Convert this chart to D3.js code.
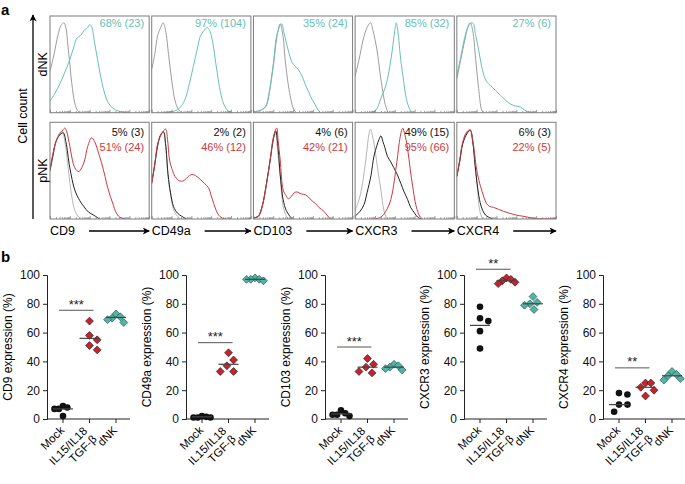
<!DOCTYPE html>
<html><head><meta charset="utf-8">
<script src="https://cdn.jsdelivr.net/npm/d3@7"></script>
<style>body{margin:0;background:#fff}svg{display:block}text{font-family:"Liberation Sans",Arial,Helvetica,sans-serif}</style>
</head><body><svg id="c" width="685" height="484"></svg>
<script>
// ---------- DATA ----------
const markers = ["CD9", "CD49a", "CD103", "CXCR3", "CXCR4"];
const rowNames = ["dNK", "pNK"];
const topPct = ["68% (23)", "97% (104)", "35% (24)", "85% (32)", "27% (6)"];
const botPctBlack = ["5% (3)", "2% (2)", "4% (6)", "49% (15)", "6% (3)"];
const botPctRed = ["51% (24)", "46% (12)", "42% (21)", "95% (66)", "22% (5)"];

// histograms: [fraction of x range, fraction of max count]
const dnkIso = [
  [[0,0.43],[0.04,0.6],[0.08,0.8],[0.11,0.9],[0.14,0.93],[0.16,0.88],[0.18,0.7],[0.2,0.5],[0.22,0.3],[0.25,0.1],[0.28,0.02],[0.31,0]],
  [[0,0.45],[0.03,0.6],[0.06,0.8],[0.09,0.88],[0.115,0.93],[0.14,0.85],[0.17,0.6],[0.2,0.35],[0.23,0.15],[0.26,0.05],[0.3,0]],
  [[0,0.01],[0.06,0.02],[0.1,0.04],[0.13,0.07],[0.16,0.2],[0.2,0.48],[0.24,0.8],[0.27,0.92],[0.3,0.78],[0.32,0.55],[0.35,0.3],[0.37,0.18],[0.4,0.05],[0.43,0]],
  [[0,0.38],[0.04,0.55],[0.08,0.75],[0.12,0.88],[0.155,0.93],[0.18,0.85],[0.22,0.65],[0.25,0.42],[0.27,0.28],[0.3,0.1],[0.33,0]],
  [[0,0.35],[0.04,0.55],[0.08,0.75],[0.11,0.88],[0.135,0.93],[0.16,0.85],[0.19,0.55],[0.22,0.25],[0.25,0.03],[0.27,0]]
];
const dnkStain = [
  [[0,0.12],[0.05,0.2],[0.1,0.3],[0.15,0.42],[0.2,0.55],[0.24,0.68],[0.27,0.77],[0.31,0.8],[0.35,0.86],[0.38,0.88],[0.4,0.91],[0.42,0.89],[0.45,0.72],[0.48,0.55],[0.51,0.38],[0.54,0.24],[0.57,0.14],[0.61,0.07],[0.66,0.03],[0.72,0.01],[0.78,0]],
  [[0.12,0],[0.2,0.01],[0.26,0.03],[0.3,0.07],[0.34,0.15],[0.38,0.3],[0.42,0.48],[0.46,0.66],[0.49,0.79],[0.52,0.84],[0.56,0.88],[0.58,0.86],[0.6,0.8],[0.62,0.7],[0.645,0.52],[0.67,0.35],[0.7,0.18],[0.73,0.08],[0.77,0.02],[0.82,0]],
  [[0,0.01],[0.06,0.02],[0.1,0.04],[0.13,0.08],[0.16,0.22],[0.2,0.5],[0.24,0.82],[0.285,0.92],[0.31,0.82],[0.35,0.65],[0.39,0.52],[0.42,0.48],[0.45,0.45],[0.49,0.38],[0.52,0.3],[0.55,0.23],[0.59,0.14],[0.62,0.09],[0.65,0.03],[0.68,0]],
  [[0.15,0],[0.2,0.02],[0.22,0.04],[0.26,0.15],[0.31,0.28],[0.35,0.48],[0.375,0.65],[0.4,0.85],[0.415,0.93],[0.43,0.85],[0.46,0.55],[0.49,0.32],[0.51,0.18],[0.54,0.06],[0.57,0]],
  [[0,0.38],[0.04,0.58],[0.08,0.78],[0.12,0.9],[0.16,0.93],[0.19,0.8],[0.22,0.65],[0.25,0.48],[0.285,0.35],[0.31,0.31],[0.34,0.28],[0.39,0.23],[0.44,0.18],[0.49,0.13],[0.54,0.09],[0.59,0.07],[0.64,0.06],[0.68,0.03],[0.72,0.01],[0.78,0]]
];
const pnkIso = [
  [[0,0.49],[0.03,0.65],[0.06,0.8],[0.09,0.88],[0.12,0.91],[0.15,0.8],[0.185,0.51],[0.22,0.23],[0.25,0.09],[0.28,0.03],[0.31,0]],
  [[0,0.37],[0.03,0.55],[0.06,0.75],[0.09,0.87],[0.115,0.91],[0.14,0.75],[0.165,0.44],[0.19,0.25],[0.22,0.1],[0.25,0.04],[0.29,0]],
  [[0,0.01],[0.05,0.02],[0.09,0.12],[0.13,0.34],[0.17,0.6],[0.2,0.82],[0.22,0.91],[0.245,0.7],[0.27,0.44],[0.3,0.13],[0.33,0.03],[0.35,0]],
  [[0,0.09],[0.04,0.2],[0.07,0.34],[0.1,0.55],[0.12,0.72],[0.14,0.88],[0.155,0.93],[0.175,0.86],[0.2,0.72],[0.23,0.5],[0.26,0.3],[0.29,0.09],[0.32,0]],
  [[0,0.44],[0.03,0.6],[0.06,0.78],[0.1,0.88],[0.135,0.92],[0.16,0.8],[0.185,0.54],[0.21,0.3],[0.22,0.16],[0.24,0.05],[0.26,0]]
];
const pnkMock = [
  [[0,0.5],[0.03,0.66],[0.06,0.8],[0.1,0.87],[0.135,0.89],[0.16,0.8],[0.2,0.53],[0.25,0.3],[0.3,0.19],[0.34,0.13],[0.39,0.07],[0.44,0.04],[0.5,0]],
  [[0,0.37],[0.03,0.56],[0.06,0.76],[0.09,0.87],[0.12,0.9],[0.14,0.78],[0.165,0.46],[0.19,0.27],[0.22,0.13],[0.26,0.06],[0.3,0.03],[0.35,0]],
  [[0,0.01],[0.05,0.03],[0.09,0.14],[0.13,0.36],[0.17,0.62],[0.2,0.82],[0.225,0.91],[0.25,0.72],[0.27,0.46],[0.3,0.2],[0.33,0.09],[0.36,0.04],[0.39,0]],
  [[0,0.03],[0.05,0.08],[0.09,0.15],[0.12,0.27],[0.16,0.45],[0.19,0.65],[0.22,0.76],[0.24,0.82],[0.26,0.86],[0.28,0.8],[0.3,0.74],[0.325,0.65],[0.36,0.59],[0.39,0.53],[0.42,0.47],[0.46,0.37],[0.49,0.29],[0.53,0.2],[0.56,0.12],[0.6,0.06],[0.63,0.02],[0.665,0]],
  [[0,0.44],[0.03,0.6],[0.06,0.78],[0.1,0.88],[0.135,0.92],[0.16,0.8],[0.185,0.55],[0.21,0.32],[0.235,0.17],[0.26,0.09],[0.29,0.04],[0.32,0.02],[0.36,0]]
];
const pnkCyto = [
  [[0,0.51],[0.03,0.68],[0.06,0.8],[0.1,0.88],[0.13,0.92],[0.15,0.94],[0.17,0.9],[0.2,0.75],[0.25,0.53],[0.29,0.49],[0.32,0.53],[0.35,0.61],[0.38,0.75],[0.42,0.84],[0.45,0.8],[0.49,0.68],[0.52,0.58],[0.555,0.44],[0.58,0.33],[0.61,0.23],[0.64,0.14],[0.66,0.08],[0.69,0.03],[0.72,0.01],[0.76,0]],
  [[0,0.37],[0.03,0.56],[0.06,0.78],[0.1,0.88],[0.14,0.93],[0.16,0.82],[0.18,0.61],[0.21,0.5],[0.235,0.44],[0.27,0.4],[0.3,0.39],[0.33,0.4],[0.37,0.44],[0.405,0.46],[0.44,0.45],[0.49,0.41],[0.53,0.37],[0.575,0.32],[0.6,0.24],[0.625,0.16],[0.65,0.09],[0.675,0.04],[0.71,0.01],[0.74,0]],
  [[0,0.01],[0.05,0.03],[0.09,0.14],[0.13,0.35],[0.17,0.62],[0.2,0.84],[0.235,0.94],[0.25,0.8],[0.27,0.61],[0.3,0.3],[0.33,0.24],[0.35,0.21],[0.38,0.23],[0.41,0.27],[0.44,0.28],[0.48,0.26],[0.525,0.25],[0.56,0.22],[0.6,0.18],[0.625,0.16],[0.66,0.12],[0.71,0.08],[0.75,0.03],[0.78,0]],
  [[0.2,0],[0.26,0.02],[0.31,0.08],[0.36,0.2],[0.39,0.36],[0.41,0.51],[0.43,0.66],[0.445,0.79],[0.465,0.9],[0.48,0.94],[0.5,0.88],[0.53,0.72],[0.555,0.52],[0.58,0.34],[0.605,0.18],[0.63,0.08],[0.65,0.03],[0.68,0]],
  [[0,0.44],[0.03,0.62],[0.06,0.8],[0.1,0.9],[0.135,0.92],[0.16,0.82],[0.2,0.51],[0.23,0.37],[0.25,0.3],[0.275,0.22],[0.3,0.16],[0.33,0.13],[0.37,0.12],[0.42,0.1],[0.47,0.08],[0.53,0.06],[0.6,0.04],[0.66,0.03],[0.71,0.02],[0.76,0.01],[0.82,0.003],[1,0]]
];

// panel b
const groups = ["Mock", "IL15/IL18|TGF-β", "dNK"];
const mockVals = [[9,8,7,7,2],[2,1.5,1,1,1],[6,4,3,3,2],[78,70,68,61,49],[18,17,10,10,5]];
const cytoVals = [[68,58,55,51,48],[46,41,37,33,33],[42,38,36,33,32],[98,97,96,95,94],[25,25,22,20,16]];
const dnkVals = [[73,71,70,69,67],[98,97,97,96,97],[38,37,36,35,34],[85,81,80,79,76],[33,31,30,28,27]];
const lineVals = [[7,56,70.5],[1.5,38,97],[3.5,36,36],[65,96,80],[10,22,30]];
const sigVals = [75.5, 53, 50, 104, 35.5];
const sigText = ["***", "***", "***", "**", "**"];
const yTicks = [0, 20, 40, 60, 80, 100];

// ---------- STYLE ----------
const TEAL = "#66c0b3", RED = "#cc3a40", BLACK = "#222";
const svg = d3.select("#c");
const defs = svg.append("defs");
defs.append("marker").attr("id","arr").attr("viewBox","0 0 10 10").attr("refX",9).attr("refY",5)
  .attr("markerWidth",9).attr("markerHeight",7).attr("markerUnits","userSpaceOnUse").attr("orient","auto")
  .append("path").attr("d","M0,0 L10,5 L0,10 L2.5,5 Z").attr("fill","#000");

// ---------- PANEL A ----------
svg.append("text").attr("x",1).attr("y",15).attr("font-size",15).attr("font-weight","bold").text("a");
const col = d3.scaleBand().domain(markers).range([50,556]).paddingInner(0.025);
const rowY = d3.scaleBand().domain(rowNames).range([16,219]).paddingInner(0.09);
const fx = d3.scaleLinear().domain([0,1]);
const fy = d3.scaleLinear().domain([0,1]);
const line = d3.line().x(d=>fx(d[0])).y(d=>fy(d[1])).curve(d3.curveCatmullRom.alpha(0.5));

// y arrow
svg.append("line").attr("x1",33).attr("x2",33).attr("y1",219).attr("y2",15)
  .attr("stroke","#000").attr("stroke-width",1.3).attr("marker-end","url(#arr)");
svg.append("text").attr("transform","translate(23,116) rotate(-90)").attr("text-anchor","middle")
  .attr("dominant-baseline","central").attr("font-size",12.5).text("Cell count");

rowNames.forEach((rn, ri) => {
  const y0 = rowY(rn), y1 = y0 + rowY.bandwidth();
  svg.append("text").attr("transform",`translate(43,${(y0+y1)/2}) rotate(-90)`).attr("text-anchor","middle")
    .attr("dominant-baseline","central").attr("font-size",12.5).text(rn);
  markers.forEach((m, mi) => {
    const x0 = col(m), x1 = x0 + col.bandwidth();
    fx.range([x0, x1]); fy.range([y1, y0]);
    const g = svg.append("g");
    const cid = `clip${ri}${mi}`;
    defs.append("clipPath").attr("id",cid).append("rect").attr("x",x0).attr("y",y0).attr("width",x1-x0).attr("height",y1-y0);
    const cg = g.append("g").attr("clip-path",`url(#${cid})`);
    const curves = ri === 0
      ? [[dnkIso[mi], "#9c9c9c"], [dnkStain[mi], TEAL]]
      : [[pnkIso[mi], "#b5b5b5"], [pnkMock[mi], BLACK], [pnkCyto[mi], RED]];
    curves.forEach(([d, c]) => {
      cg.append("path").attr("d", line(d)).attr("fill","none").attr("stroke",c).attr("stroke-width",1);
    });
    // log-scale ticks along the bottom
    const lx = d3.scaleLog().domain([1, 1e5]).range([x0, x1]);
    const ax = d3.axisTop(lx).tickSize(2).tickFormat("");
    const ag = g.append("g").attr("transform",`translate(0,${y1})`).call(ax);
    ag.select(".domain").remove();
    ag.selectAll(".tick line").attr("stroke","#777").attr("stroke-width",0.7)
      .attr("y2", d => (Math.abs(Math.log10(d) % 1) < 1e-9) ? -3 : -1.8);
    g.append("rect").attr("x",x0).attr("y",y0).attr("width",x1-x0).attr("height",y1-y0)
      .attr("fill","none").attr("stroke","#7d7d7d").attr("stroke-width",1);
    if (ri === 0) {
      g.append("text").attr("x",x1-5).attr("y",y0+11).attr("text-anchor","end").attr("font-size",11)
        .attr("fill",TEAL).text(topPct[mi]);
    } else {
      g.append("text").attr("x",x1-5).attr("y",y0+13.5).attr("text-anchor","end").attr("font-size",11)
        .attr("fill","#111").text(botPctBlack[mi]);
      g.append("text").attr("x",x1-5).attr("y",y0+29).attr("text-anchor","end").attr("font-size",11)
        .attr("fill",RED).text(botPctRed[mi]);
      // marker axis label + arrow
      const t = svg.append("text").attr("x",x0).attr("y",235).attr("font-size",12.5).text(m);
      const tw = t.node().getComputedTextLength();
      svg.append("line").attr("x1",x0+tw+14).attr("x2",x1).attr("y1",231).attr("y2",231)
        .attr("stroke","#000").attr("stroke-width",1.3).attr("marker-end","url(#arr)");
    }
  });
});

// ---------- PANEL B ----------
svg.append("text").attr("x",1).attr("y",262).attr("font-size",15).attr("font-weight","bold").text("b");
const sub = d3.scaleBand().domain(markers).range([47, 47 + 139*5]).paddingInner(0);
const y = d3.scaleLinear().domain([0,100]).range([419, 275]);
const colors = [{fill:"#111", stroke:"#111", shape:"circle"}, {fill:"#c0262f", stroke:"#3a1010", shape:"diamond"}, {fill:"#52b4a7", stroke:"#1f4a44", shape:"diamond"}];

// simple beeswarm: nearest free horizontal slot, then compressed to a maximum half-width
function swarm(vals, r, maxHalf) {
  const placed = [];
  vals.forEach(v => {
    const py = y(v);
    const cands = [0];
    placed.forEach(p => {
      const dy = Math.abs(p.y - py);
      if (dy < 2*r) { const dx = Math.sqrt(4*r*r - dy*dy); cands.push(p.x - dx, p.x + dx); }
    });
    cands.sort((a,b)=>Math.abs(a)-Math.abs(b) || b-a);
    let best = 0;
    for (const c of cands) {
      if (placed.every(p => Math.hypot(p.x - c, p.y - py) >= 2*r - 1e-6)) { best = c; break; }
    }
    placed.push({x: best, y: py, v});
  });
  const ext = d3.max(placed, p => Math.abs(p.x));
  if (ext > maxHalf) placed.forEach(p => p.x *= maxHalf / ext);
  return placed;
}

markers.forEach((m, mi) => {
  const ax0 = sub(m);
  const x = d3.scalePoint().domain(groups).range([ax0 + 16, ax0 + 69]);
  const g = svg.append("g");
  // y axis
  const yA = d3.axisLeft(y).tickValues(yTicks).tickSize(4).tickPadding(3);
  const yg = g.append("g").attr("transform",`translate(${ax0},0)`).call(yA);
  yg.selectAll("text").attr("font-size",12).attr("font-family","Liberation Sans, Arial, sans-serif").attr("fill","#111");
  yg.selectAll("line,path").attr("stroke","#222");
  // x axis
  g.append("line").attr("x1",ax0).attr("x2",ax0+83).attr("y1",y(0)).attr("y2",y(0)).attr("stroke","#222");
  groups.forEach((gr, gi) => {
    const cx = x(gr);
    g.append("line").attr("x1",cx).attr("x2",cx).attr("y1",y(0)).attr("y2",y(0)+4).attr("stroke","#222");
    const lab = g.append("text").attr("transform",`translate(${cx+2},${y(0)+12}) rotate(-45)`)
      .attr("text-anchor","end").attr("font-size",11.5);
    const parts = gr.split("|");
    if (parts.length === 1) lab.text(gr);
    else {
      lab.append("tspan").attr("x",-3).attr("y",-2).text(parts[0]);
      lab.append("tspan").attr("x",-2).attr("y",10.5).text(parts[1]);
    }
    const vals = [mockVals, cytoVals, dnkVals][gi][mi];
    const st = colors[gi];
    const pts = swarm(vals, 4.4, 8.5);
    pts.forEach(p => {
      if (st.shape === "circle") {
        g.append("circle").attr("cx",cx+p.x).attr("cy",p.y).attr("r",3.3).attr("fill",st.fill);
      } else {
        g.append("path").attr("d",d3.symbol(d3.symbolSquare, 31)()).attr("transform",`translate(${cx+p.x},${p.y}) rotate(45)`)
          .attr("fill",st.fill).attr("stroke",st.stroke).attr("stroke-width",0.6);
      }
    });
    const lv = lineVals[mi][gi];
    g.append("line").attr("x1",cx-10).attr("x2",cx+10).attr("y1",y(lv)).attr("y2",y(lv)).attr("stroke","#444").attr("stroke-width",1.2);
  });
  // significance
  const sx0 = x(groups[0]) - 4, sx1 = x(groups[1]) + 4, sy = y(sigVals[mi]);
  g.append("line").attr("x1",sx0).attr("x2",sx1).attr("y1",sy).attr("y2",sy).attr("stroke","#555").attr("stroke-width",1);
  g.append("text").attr("x",(sx0+sx1)/2).attr("y",sy-1.5).attr("text-anchor","middle").attr("font-size",13).attr("fill","#222").text(sigText[mi]);
  // y label
  svg.append("text").attr("transform",`translate(${ax0-39},347) rotate(-90)`).attr("text-anchor","middle")
    .attr("dominant-baseline","central").attr("font-size",12).text(`${m} expression (%)`);
});
</script></body></html>
